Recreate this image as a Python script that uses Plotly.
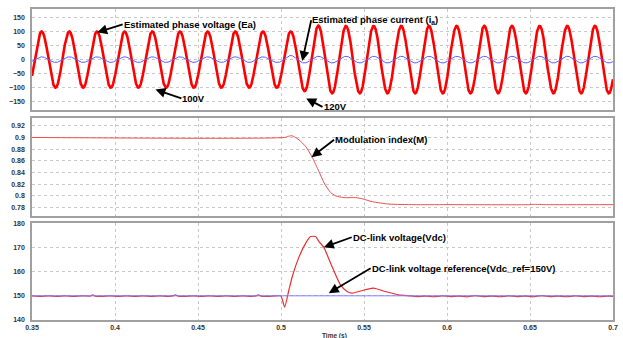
import numpy as np
import plotly.graph_objects as go

# ---------------- data ----------------
F_HZ = 60.0                      # supply frequency (period read from peak spacing)
T_FIRST_PEAK = 0.3558            # time of first Ea positive peak
# Ea extremum magnitudes, one per half cycle, starting one half cycle before first peak
ea_extrema = [100] * 20 + [112, 121] + [120] * 21
# ia extremum magnitudes, one per half cycle
ia_extrema = [10] * 19 + [15, 12] + [12] * 22

m_t = [0.35, 0.502, 0.5045, 0.5066, 0.508, 0.5108, 0.5150, 0.5188, 0.5228, 0.526,
       0.5298, 0.533, 0.538, 0.545, 0.549, 0.555, 0.565, 0.58, 0.60, 0.65, 0.652, 0.66, 0.70]
m_v = [0.9, 0.9, 0.902, 0.903, 0.901, 0.896, 0.884, 0.866, 0.842, 0.822,
       0.806, 0.800, 0.797, 0.797, 0.795, 0.790, 0.786, 0.785, 0.785, 0.785, 0.7855, 0.785, 0.785]

vdc_t = [0.35, 0.355, 0.36, 0.365, 0.37, 0.375, 0.38, 0.385, 0.3865, 0.388, 0.392, 0.397,
         0.402, 0.407, 0.412, 0.417, 0.422, 0.427, 0.432, 0.435, 0.4365, 0.438, 0.442,
         0.447, 0.452, 0.457, 0.462, 0.467, 0.472, 0.477, 0.482, 0.485, 0.4865, 0.488,
         0.492, 0.497, 0.500, 0.5022, 0.5048, 0.5068, 0.5108, 0.5148, 0.5178, 0.5208,
         0.5228, 0.5258, 0.5308, 0.5358, 0.5398, 0.5428, 0.5508, 0.5558, 0.5628, 0.5708,
         0.5768, 0.582, 0.587, 0.592, 0.597, 0.602, 0.607, 0.612, 0.617, 0.622, 0.627,
         0.632, 0.637, 0.642, 0.647, 0.652, 0.657, 0.662, 0.667, 0.672, 0.677, 0.682,
         0.687, 0.692, 0.697, 0.70]
vdc_v = [150.0, 149.8, 150.0, 149.8, 150.0, 149.8, 150.0, 149.9, 150.4, 149.9, 149.8, 150.0,
         149.8, 150.0, 149.8, 150.0, 149.8, 150.0, 149.8, 150.0, 150.4, 149.9, 149.8,
         150.0, 149.8, 150.0, 149.8, 150.0, 149.8, 150.0, 149.8, 150.0, 150.4, 149.9,
         149.8, 150.0, 149.9, 145.3, 152.5, 158.0, 166.0, 171.7, 174.5, 174.5,
         172.5, 170.0, 162.0, 154.5, 151.8, 151.1, 152.5, 153.2, 151.8, 150.4,
         150.0, 149.7, 149.9, 149.6, 150.0, 149.7, 149.9, 149.6, 150.1, 149.7, 149.9,
         149.6, 150.0, 149.7, 149.9, 149.6, 150.1, 149.7, 149.9, 149.6, 150.0, 149.7,
         149.9, 149.6, 149.9, 149.8]
vref_t = [0.35, 0.70]
vref_v = [150, 150]

x_ticks = [0.35, 0.4, 0.45, 0.5, 0.55, 0.6, 0.65, 0.7]
x_ticktext = ["0.35", "0.4", "0.45", "0.5", "0.55", "0.6", "0.65", "0.7"]
y1_ticks = [-150, -100, -50, 0, 50, 100, 150]
y2_ticks = [0.78, 0.8, 0.82, 0.84, 0.86, 0.88, 0.9, 0.92]
y2_ticktext = ["0.78", "0.8", "0.82", "0.84", "0.86", "0.88", "0.9", "0.92"]
y3_ticks = [140, 150, 160, 170, 180]

# ---------------- waveform construction ----------------
t = np.arange(0.35, 0.70001, 0.00005)
half = 1.0 / (2 * F_HZ)
ext_t = T_FIRST_PEAK + half * (np.arange(len(ea_extrema)) - 1)
phase = np.cos(2 * np.pi * F_HZ * (t - T_FIRST_PEAK))
ea = np.interp(t, ext_t, ea_extrema) * phase
ia = np.interp(t, ext_t, ia_extrema) * phase

# ---------------- figure ----------------
fig = go.Figure()
fig.add_trace(go.Scatter(x=t, y=ea, mode="lines", line=dict(color="#ff0000", width=2.6),
                         xaxis="x", yaxis="y", showlegend=False))
fig.add_trace(go.Scatter(x=t, y=ia, mode="lines", line=dict(color="#6060ff", width=1),
                         xaxis="x", yaxis="y", showlegend=False))
fig.add_trace(go.Scatter(x=m_t, y=m_v, mode="lines", line=dict(color="#e85050", width=1, shape="spline", smoothing=0.6),
                         xaxis="x2", yaxis="y2", showlegend=False))
fig.add_trace(go.Scatter(x=vdc_t, y=vdc_v, mode="lines", line=dict(color="#e83030", width=1.2, shape="spline", smoothing=0.5),
                         xaxis="x3", yaxis="y3", showlegend=False))
fig.add_trace(go.Scatter(x=vref_t, y=vref_v, mode="lines", line=dict(color="#8080ff", width=1),
                         xaxis="x3", yaxis="y3", showlegend=False))

H = 315.0
def dom(top_px, bot_px):
    return [(320 - bot_px) / H, (320 - top_px) / H]

tickfont = dict(family="Liberation Sans, Arial", size=7, color="#333333", weight="bold")
common_x = dict(range=[0.35, 0.7], tickvals=x_ticks, showgrid=True, gridcolor="#c8c8c8",
                griddash="dot", gridwidth=1, showline=True, linecolor="#a0a0a0", linewidth=1.5,
                mirror=True, zeroline=False, ticks="", tickfont=tickfont)
common_y = dict(showgrid=True, gridcolor="#c8c8c8", griddash="dot", gridwidth=1,
                showline=True, linecolor="#a0a0a0", linewidth=1.5, mirror=True,
                zeroline=False, ticks="", tickfont=tickfont, ticklabelstandoff=4)

fig.update_layout(
    width=623, height=338,
    margin=dict(l=32, r=8, t=5, b=18),
    paper_bgcolor="white", plot_bgcolor="white",
    xaxis=dict(common_x, anchor="y", showticklabels=False),
    xaxis2=dict(common_x, anchor="y2", showticklabels=False, matches="x"),
    xaxis3=dict(common_x, anchor="y3", showticklabels=True, ticktext=x_ticktext, matches="x"),
    yaxis=dict(common_y, domain=dom(5, 107), range=[-178, 180], tickvals=y1_ticks),
    yaxis2=dict(common_y, domain=dom(115, 215), range=[0.765, 0.934], tickvals=y2_ticks, ticktext=y2_ticktext),
    yaxis3=dict(common_y, domain=dom(222, 320), range=[140, 180], tickvals=y3_ticks),
)

afont = dict(family="Liberation Sans, Arial", size=9.5, color="black", weight="bold")

def labelled_arrow(xr, yr, hx, hy, tx, ty, txt):
    # text box left-middle sits at the arrow tail; arrow runs to the head
    fig.add_annotation(x=hx, y=hy, ax=tx, ay=ty, xref=xr, yref=yr, axref=xr, ayref=yr,
                       text=txt, showarrow=True, arrowhead=2, arrowsize=1.1, arrowwidth=1.8,
                       arrowcolor="black", xanchor="left", yanchor="middle", font=afont,
                       borderpad=0)

labelled_arrow("x", "y", 0.3893, 97, 0.4046, 125, "Estimated phase voltage (Ea)")
labelled_arrow("x", "y", 0.5128, -5, 0.5182, 140, "Estimated phase current (i<sub>a</sub>)")
labelled_arrow("x", "y", 0.4244, -106, 0.4400, -138, "100V")
labelled_arrow("x", "y", 0.5152, -138, 0.5250, -168, "120V")
labelled_arrow("x2", "y2", 0.5184, 0.8663, 0.5320, 0.8960, "Modulation index(M)")
labelled_arrow("x3", "y3", 0.5258, 170.1, 0.5426, 174.2, "DC-link voltage(Vdc)")
labelled_arrow("x3", "y3", 0.5288, 151.1, 0.5540, 161.4, "DC-link voltage reference(Vdc_ref=150V)")

fig.add_annotation(x=0.52, y=0, xref="paper", yref="paper", yshift=-10, text="Time (s)",
                   showarrow=False, xanchor="center", yanchor="top",
                   font=dict(family="Liberation Sans, Arial", size=6.5, color="#333333", weight="bold"))

fig.write_html("out.html", config={"displayModeBar": False},
               post_script="document.body.style.margin='0';document.body.style.padding='0';"
                           "document.body.style.overflow='hidden';")
